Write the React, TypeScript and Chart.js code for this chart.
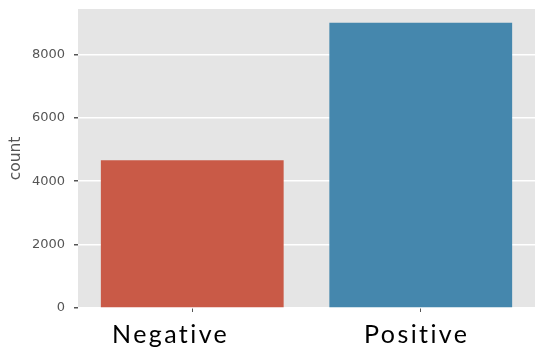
import React, { useEffect, useRef } from "react";
import { Chart, registerables } from "chart.js";

Chart.register(...registerables);

const categories = ["Negative    ", "Positive"];
const counts = [4660, 9000];
const barColors = ["#C95A47", "#4587AD"];
const yMax = 9430;
const yTickValues = [0, 2000, 4000, 6000, 8000];
const yTitle = "count";

const bgPlugin = {
  id: "plotBg",
  beforeDraw(chart: any) {
    const { ctx, chartArea } = chart;
    ctx.save();
    ctx.fillStyle = "#E5E5E5";
    ctx.fillRect(chartArea.left, chartArea.top, chartArea.right - chartArea.left, chartArea.bottom - chartArea.top);
    ctx.restore();
  },
  afterDatasetsDraw(chart: any) {
    (chart.ctx as any).letterSpacing = "2.4px";
  },
  afterDraw(chart: any) {
    (chart.ctx as any).letterSpacing = "0px";
  },
};

export default function App() {
  const ref = useRef<HTMLCanvasElement>(null);
  useEffect(() => {
    const chart = new Chart(ref.current!, {
      type: "bar",
      data: {
        labels: categories,
        datasets: [
          {
            data: counts,
            backgroundColor: barColors,
            barPercentage: 0.8,
            categoryPercentage: 1,
          },
        ],
      },
      options: {
        animation: false,
        responsive: false,
        maintainAspectRatio: false,
        layout: { padding: { left: 0, right: 15, top: 9, bottom: 0 } },
        plugins: { legend: { display: false }, tooltip: { enabled: false } },
        scales: {
          x: {
            offset: true,
            grid: {
              display: true,
              offset: false,
              drawOnChartArea: false,
              drawTicks: true,
              tickLength: 4,
              tickColor: "#555555",
            },
            border: { display: false },
            ticks: {
              z: 1,
              padding: 8,
              labelOffset: -4,
              color: "#000000",
              font: { family: "Lato", size: 25 },
            },
            afterFit(scale: any) {
              scale.height = 51;
              scale.paddingLeft = 0;
              scale.paddingRight = 0;
            },
          },
          y: {
            min: 0,
            max: yMax,
            grid: {
              color: "#FFFFFF",
              lineWidth: 1.5,
              tickLength: 4,
              tickColor: "#555555",
            },
            border: { display: false },
            ticks: {
              autoSkip: false,
              padding: 9,
              color: "#555555",
              font: { family: "DejaVu Sans", size: 13 },
              callback: (v: any) => String(v),
            },
            afterBuildTicks(scale: any) {
              scale.ticks = yTickValues.map((v) => ({ value: v }));
            },
            title: {
              display: true,
              text: yTitle,
              color: "#555555",
              font: { family: "DejaVu Sans", size: 15.5 },
              padding: { top: 7, bottom: 0 },
            },
            afterFit(scale: any) {
              scale.width = 78;
              scale.paddingTop = 0;
              scale.paddingBottom = 0;
            },
          },
        },
      },
      plugins: [bgPlugin],
    } as any);
    return () => chart.destroy();
  }, []);
  return (
    <div style={{ position: "absolute", left: 0, top: 0, width: 550, height: 359 }}>
      <canvas ref={ref} width={550} height={359} style={{ width: 550, height: 359 }} />
    </div>
  );
}
